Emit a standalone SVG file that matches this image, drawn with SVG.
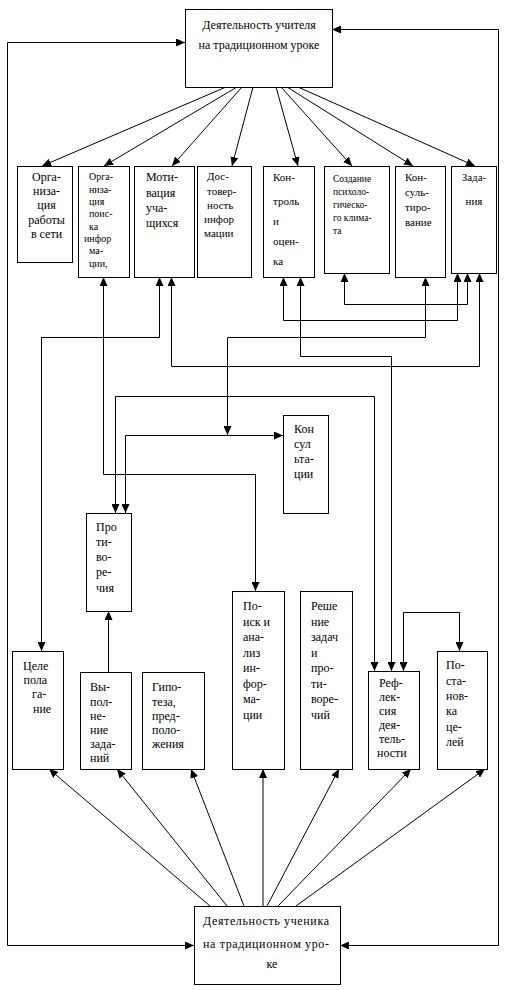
<svg xmlns="http://www.w3.org/2000/svg" width="506" height="990" viewBox="0 0 506 990">
<style>
  .box{fill:#fff;stroke:#000;stroke-width:1}
  .t{font-family:"Liberation Serif","Times New Roman",serif;font-size:12px;fill:#000}
  .s10{font-size:10px}
  .s9{font-size:9.5px}
  .s11{font-size:11px}
  .m{text-anchor:middle}
  .c{fill:none;stroke:#000;stroke-width:1}
  .a{marker-end:url(#ah)}
  .aa{marker-start:url(#ah);marker-end:url(#ah)}
</style>
<defs>
  <marker id="ah" viewBox="0 0 9 8" refX="9" refY="4" markerWidth="9" markerHeight="8" markerUnits="userSpaceOnUse" orient="auto-start-reverse">
    <path d="M0,0 L9,4 L0,8 z" fill="#000"/>
  </marker>
</defs>
<rect width="506" height="990" fill="#fff"/>

<g id="connectors">
  <!-- teacher fan -->
  <line class="c a" x1="226" y1="87" x2="42" y2="166"/>
  <line class="c a" x1="237" y1="87" x2="104" y2="166"/>
  <line class="c a" x1="242" y1="87" x2="172" y2="166"/>
  <line class="c a" x1="253" y1="87" x2="232" y2="166"/>
  <line class="c a" x1="276" y1="87" x2="298" y2="166"/>
  <line class="c a" x1="281" y1="87" x2="352" y2="166"/>
  <line class="c a" x1="287" y1="87" x2="413" y2="166"/>
  <line class="c a" x1="298" y1="87" x2="475" y2="166"/>
  <!-- side loops -->
  <path class="c aa" d="M185,42.5 H7.5 V945.5 H194"/>
  <path class="c aa" d="M332,29.5 H498.5 V945.5 H340"/>
  <!-- middle -->
  <path class="c aa" d="M103.5,277 V474.5 H255.5 V591"/>
  <path class="c aa" d="M159.5,277 V337.5 H41.5 V651"/>
  <path class="c aa" d="M171.5,277 V366.5 H479.5 V273"/>
  <path class="c aa" d="M283.5,277 V320.5 H457.5 V273"/>
  <path class="c aa" d="M344.5,273 V304.5 H467.5 V273"/>
  <path class="c aa" d="M300.5,277 V356.5 H391.5 V671"/>
  <path class="c aa" d="M425.5,277 V337.5 H227.5 V435"/>
  <path class="c aa" d="M125.5,513 V435.5 H283"/>
  <path class="c aa" d="M115.5,513 V396.5 H374.5 V671"/>
  <path class="c aa" d="M403.5,671 V612.5 H459.5 V651"/>
  <path class="c a" d="M108.5,672 V611"/>
  <!-- student fan -->
  <line class="c a" x1="210" y1="906" x2="49" y2="769"/>
  <line class="c a" x1="227" y1="906" x2="117" y2="769"/>
  <line class="c a" x1="244" y1="906" x2="191" y2="769"/>
  <line class="c a" x1="263" y1="906" x2="263" y2="769"/>
  <line class="c a" x1="267" y1="906" x2="339" y2="769"/>
  <line class="c a" x1="278" y1="906" x2="411" y2="769"/>
  <line class="c a" x1="296" y1="906" x2="485" y2="769"/>
</g>

<g id="teacher">
  <rect class="box" x="185.5" y="9.5" width="147" height="78"/>
  <text class="t m" x="259" y="29">Деятельность учителя</text>
  <text class="t m" x="259" y="49">на традиционном уроке</text>
</g>

<g id="org-network">
  <rect class="box" x="17.5" y="166.5" width="55" height="96"/>
  <text class="t m" x="46.5" y="181">Орга-</text>
  <text class="t m" x="46.5" y="195">низа-</text>
  <text class="t m" x="46.5" y="209">ция</text>
  <text class="t m" x="46.5" y="224">работы</text>
  <text class="t m" x="46.5" y="238">в сети</text>
</g>

<g id="org-search">
  <rect class="box" x="78.5" y="166.5" width="51" height="111"/>
  <text class="t s10" x="89" y="180">Орга-</text>
  <text class="t s10" x="89" y="192.5">низа-</text>
  <text class="t s10" x="89" y="205">ция</text>
  <text class="t s10" x="89" y="217">поис-</text>
  <text class="t s10" x="89" y="229.5">ка</text>
  <text class="t s10" x="84" y="242">инфор</text>
  <text class="t s10" x="89" y="254">ма-</text>
  <text class="t s10" x="89" y="267">ции,</text>
</g>

<g id="motivation">
  <rect class="box" x="134.5" y="166.5" width="60" height="111"/>
  <text class="t" x="146" y="181">Моти-</text>
  <text class="t" x="146" y="197">вация</text>
  <text class="t" x="146" y="212">уча-</text>
  <text class="t" x="146" y="227">щихся</text>
</g>

<g id="reliability">
  <rect class="box" x="197.5" y="166.5" width="54" height="111"/>
  <text class="t s11" x="207" y="180">Дос-</text>
  <text class="t s11" x="207" y="195">товер-</text>
  <text class="t s11" x="207" y="209">ность</text>
  <text class="t s11" x="204" y="223">инфор</text>
  <text class="t s11" x="204" y="237">мации</text>
</g>

<g id="control">
  <rect class="box" x="263.5" y="166.5" width="51" height="111"/>
  <text class="t s11" x="273" y="181">Кон-</text>
  <text class="t s11" x="273" y="205">троль</text>
  <text class="t s11" x="273" y="225">и</text>
  <text class="t s11" x="273" y="245">оцен-</text>
  <text class="t s11" x="273" y="265">ка</text>
</g>

<g id="climate">
  <rect class="box" x="324.5" y="166.5" width="65" height="107"/>
  <text class="t s9" x="333" y="182">Создание</text>
  <text class="t s9" x="333" y="195">психоло-</text>
  <text class="t s9" x="333" y="208">гическо-</text>
  <text class="t s9" x="333" y="221">го клима-</text>
  <text class="t s9" x="333" y="234">та</text>
</g>

<g id="consulting">
  <rect class="box" x="395.5" y="166.5" width="50" height="111"/>
  <text class="t s11" x="405" y="181">Кон-</text>
  <text class="t s11" x="405" y="196">суль-</text>
  <text class="t s11" x="405" y="211">тиро-</text>
  <text class="t s11" x="405" y="226">вание</text>
</g>

<g id="tasks">
  <rect class="box" x="451.5" y="166.5" width="45" height="107"/>
  <text class="t s11 m" x="474" y="181">Зада-</text>
  <text class="t s11 m" x="474" y="205">ния</text>
</g>

<g id="consultations">
  <rect class="box" x="283.5" y="415.5" width="45" height="98"/>
  <text class="t" x="294" y="433">Кон</text>
  <text class="t" x="294" y="448">сул</text>
  <text class="t" x="294" y="463">ьта-</text>
  <text class="t" x="294" y="478">ции</text>
</g>

<g id="contradictions">
  <rect class="box" x="86.5" y="513.5" width="45" height="98"/>
  <text class="t" x="96" y="531">Про</text>
  <text class="t" x="96" y="546">ти-</text>
  <text class="t" x="96" y="561">во-</text>
  <text class="t" x="96" y="576">ре-</text>
  <text class="t" x="96" y="592">чия</text>
</g>

<g id="search">
  <rect class="box" x="232.5" y="591.5" width="52" height="178"/>
  <text class="t" x="243" y="610">По-</text>
  <text class="t" x="243" y="626">иск и</text>
  <text class="t" x="243" y="641">ана-</text>
  <text class="t" x="243" y="657">лиз</text>
  <text class="t" x="243" y="672">ин-</text>
  <text class="t" x="243" y="688">фор-</text>
  <text class="t" x="243" y="703">ма-</text>
  <text class="t" x="243" y="719">ции</text>
</g>

<g id="solving">
  <rect class="box" x="300.5" y="591.5" width="52" height="178"/>
  <text class="t" x="311" y="610">Реше</text>
  <text class="t" x="311" y="626">ние</text>
  <text class="t" x="311" y="641">задач</text>
  <text class="t" x="311" y="657">и</text>
  <text class="t" x="311" y="672">про-</text>
  <text class="t" x="311" y="688">ти-</text>
  <text class="t" x="311" y="703">воре-</text>
  <text class="t" x="311" y="719">чий</text>
</g>

<g id="goal-setting">
  <rect class="box" x="12.5" y="651.5" width="51" height="118"/>
  <text class="t" x="23" y="670">Целе</text>
  <text class="t" x="23.5" y="684">пола</text>
  <text class="t" x="32" y="698">га-</text>
  <text class="t" x="33" y="713">ние</text>
</g>

<g id="doing-tasks">
  <rect class="box" x="80.5" y="672.5" width="51" height="97"/>
  <text class="t" x="90" y="691">Вы-</text>
  <text class="t" x="90" y="706">пол-</text>
  <text class="t" x="90" y="720">не-</text>
  <text class="t" x="90" y="734">ние</text>
  <text class="t" x="90" y="748">зада-</text>
  <text class="t" x="90" y="762">ний</text>
</g>

<g id="hypothesis">
  <rect class="box" x="142.5" y="672.5" width="62" height="97"/>
  <text class="t" x="152" y="691">Гипо-</text>
  <text class="t" x="152" y="706">теза,</text>
  <text class="t" x="152" y="720">пред-</text>
  <text class="t" x="152" y="734">поло-</text>
  <text class="t" x="152" y="748">жения</text>
</g>

<g id="reflection">
  <rect class="box" x="368.5" y="671.5" width="51" height="98"/>
  <text class="t" x="379" y="687">Реф-</text>
  <text class="t" x="379" y="701">лек-</text>
  <text class="t" x="379" y="715">сия</text>
  <text class="t" x="379" y="729">дея-</text>
  <text class="t" x="379" y="743">тель-</text>
  <text class="t" x="377" y="757">ности</text>
</g>

<g id="goal-statement">
  <rect class="box" x="437.5" y="651.5" width="50" height="118"/>
  <text class="t" x="446" y="669">По-</text>
  <text class="t" x="446" y="685">ста-</text>
  <text class="t" x="446" y="700">нов-</text>
  <text class="t" x="446" y="715">ка</text>
  <text class="t" x="446" y="731">це-</text>
  <text class="t" x="446" y="746">лей</text>
</g>

<g id="student">
  <rect class="box" x="194.5" y="906.5" width="146" height="78"/>
  <text class="t" x="203" y="925" textLength="126" lengthAdjust="spacing">Деятельность ученика</text>
  <text class="t" x="203" y="948" textLength="126" lengthAdjust="spacing">на традиционном уро-</text>
  <text class="t m" x="272" y="968">ке</text>
</g>
</svg>
